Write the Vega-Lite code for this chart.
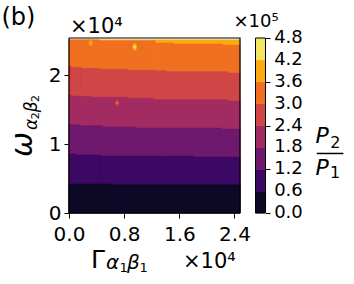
{
  "$schema": "https://vega.github.io/schema/vega-lite/v6.json",
  "width": 171,
  "height": 175,
  "autosize": {"type": "none"},
  "padding": {"left": 69, "top": 38, "right": 114, "bottom": 71},
  "background": "white",
  "config": {
    "view": {"stroke": null},
    "font": "DejaVu Sans",
    "axis": {"grid": false, "domain": false, "labelFont": "DejaVu Sans", "labelColor": "black", "tickColor": "black", "labelFlush": false, "labelOverlap": false},
    "text": {"font": "DejaVu Sans", "color": "black"}
  },
  "datasets": {
    "bands": [
      {"lo": 3.6, "x0": 0, "x1": 2.48, "y0": 0, "y1": 2.515},
      {"lo": 3.0, "x0": 0, "x1": 0.44, "y0": 0, "y1": 2.515},
      {"lo": 3.0, "x0": 0.44, "x1": 1.25, "y0": 0, "y1": 2.5},
      {"lo": 3.0, "x0": 1.25, "x1": 1.51, "y0": 0, "y1": 2.467},
      {"lo": 3.0, "x0": 1.51, "x1": 2.23, "y0": 0, "y1": 2.453},
      {"lo": 3.0, "x0": 2.23, "x1": 2.48, "y0": 0, "y1": 2.438},
      {"lo": 2.4, "x0": 0, "x1": 0.029, "y0": 0, "y1": 2.134},
      {"lo": 2.4, "x0": 0.029, "x1": 0.174, "y0": 0, "y1": 2.115},
      {"lo": 2.4, "x0": 0.174, "x1": 0.44, "y0": 0, "y1": 2.1},
      {"lo": 2.4, "x0": 0.44, "x1": 0.851, "y0": 0, "y1": 2.086},
      {"lo": 2.4, "x0": 0.851, "x1": 1.25, "y0": 0, "y1": 2.071},
      {"lo": 2.4, "x0": 1.25, "x1": 1.411, "y0": 0, "y1": 2.065},
      {"lo": 2.4, "x0": 1.411, "x1": 2.306, "y0": 0, "y1": 2.051},
      {"lo": 2.4, "x0": 2.306, "x1": 2.48, "y0": 0, "y1": 2.032},
      {"lo": 1.8, "x0": 0, "x1": 0.054, "y0": 0, "y1": 1.708},
      {"lo": 1.8, "x0": 0.054, "x1": 0.319, "y0": 0, "y1": 1.694},
      {"lo": 1.8, "x0": 0.319, "x1": 0.851, "y0": 0, "y1": 1.679},
      {"lo": 1.8, "x0": 0.851, "x1": 1.22, "y0": 0, "y1": 1.665},
      {"lo": 1.8, "x0": 1.22, "x1": 2.306, "y0": 0, "y1": 1.642},
      {"lo": 1.8, "x0": 2.306, "x1": 2.48, "y0": 0, "y1": 1.626},
      {"lo": 1.2, "x0": 0, "x1": 0.15, "y0": 0, "y1": 1.282},
      {"lo": 1.2, "x0": 0.15, "x1": 0.488, "y0": 0, "y1": 1.267},
      {"lo": 1.2, "x0": 0.488, "x1": 0.972, "y0": 0, "y1": 1.248},
      {"lo": 1.2, "x0": 0.972, "x1": 2.209, "y0": 0, "y1": 1.232},
      {"lo": 1.2, "x0": 2.209, "x1": 2.48, "y0": 0, "y1": 1.219},
      {"lo": 0.6, "x0": 0, "x1": 0.1, "y0": 0, "y1": 0.856},
      {"lo": 0.6, "x0": 0.1, "x1": 0.464, "y0": 0, "y1": 0.842},
      {"lo": 0.6, "x0": 0.464, "x1": 1.388, "y0": 0, "y1": 0.827},
      {"lo": 0.6, "x0": 1.388, "x1": 1.411, "y0": 0, "y1": 0.813},
      {"lo": 0.6, "x0": 1.411, "x1": 1.798, "y0": 0, "y1": 0.827},
      {"lo": 0.6, "x0": 1.798, "x1": 2.48, "y0": 0, "y1": 0.813},
      {"lo": 0, "x0": 0, "x1": 0.634, "y0": 0, "y1": 0.421},
      {"lo": 0, "x0": 0.634, "x1": 2.48, "y0": 0, "y1": 0.409},
      {"lo": 3.6, "x0": 0.3, "x1": 0.33, "y0": 2.43, "y1": 2.5},
      {"lo": 3.6, "x0": 0.29, "x1": 0.34, "y0": 2.455, "y1": 2.48},
      {"lo": 3.6, "x0": 0.94, "x1": 0.967, "y0": 2.356, "y1": 2.463},
      {"lo": 3.6, "x0": 0.924, "x1": 0.982, "y0": 2.385, "y1": 2.435},
      {"lo": 4.2, "x0": 0.94, "x1": 0.967, "y0": 2.39, "y1": 2.43},
      {"lo": 2.4, "x0": 0.685, "x1": 0.708, "y0": 1.557, "y1": 1.64},
      {"lo": 2.4, "x0": 0.672, "x1": 0.721, "y0": 1.58, "y1": 1.615},
      {"lo": 3.0, "x0": 0.685, "x1": 0.708, "y0": 1.585, "y1": 1.61}
    ],
    "cbar": [
      {"lo": 0, "hi": 0.6},
      {"lo": 0.6, "hi": 1.2},
      {"lo": 1.2, "hi": 1.8},
      {"lo": 1.8, "hi": 2.4},
      {"lo": 2.4, "hi": 3.0},
      {"lo": 3.0, "hi": 3.6},
      {"lo": 3.6, "hi": 4.2},
      {"lo": 4.2, "hi": 4.8}
    ],
    "cticks": [
      {"v": 0}, {"v": 0.6}, {"v": 1.2}, {"v": 1.8}, {"v": 2.4}, {"v": 3.0}, {"v": 3.6}, {"v": 4.2}, {"v": 4.8}
    ]
  },
  "resolve": {"scale": {"y": "independent"}},
  "layer": [
    {
      "layer": [
        {
          "data": {"name": "bands"},
          "mark": {"type": "rect", "strokeWidth": 0.5},
          "encoding": {
            "x": {"field": "x0", "type": "quantitative", "scale": {"domain": [0, 2.48], "nice": false, "zero": false},
              "axis": {"title": null, "values": [0, 0.8, 1.6, 2.4], "format": ".1f", "labelFontSize": 20, "tickSize": 5, "tickWidth": 1, "labelPadding": 6, "orient": "bottom", "labelOverlap": false}},
            "x2": {"field": "x1"},
            "y": {"field": "y0", "type": "quantitative", "scale": {"domain": [0, 2.54], "nice": false, "zero": false},
              "axis": {"title": null, "values": [0, 1, 2], "format": "d", "labelFontSize": 20, "tickSize": 5, "tickWidth": 1, "labelPadding": 3, "orient": "left", "labelOverlap": false}},
            "y2": {"field": "y1"},
            "color": {"field": "lo", "type": "quantitative", "scale": {"type": "threshold", "domain": [0.6, 1.2, 1.8, 2.4, 3.0, 3.6, 4.2], "range": ["#0c0826", "#3b0964", "#6f196e", "#a22b62", "#d04545", "#f06f20", "#fbab11", "#f4e461"]}, "legend": null},
            "stroke": {"field": "lo", "type": "quantitative", "scale": {"type": "threshold", "domain": [0.6, 1.2, 1.8, 2.4, 3.0, 3.6, 4.2], "range": ["#0c0826", "#3b0964", "#6f196e", "#a22b62", "#d04545", "#f06f20", "#fbab11", "#f4e461"]}, "legend": null}
          }
        },
        {
          "data": {"values": [{}]},
          "mark": {"type": "rect", "filled": false, "stroke": "black", "strokeWidth": 1.2, "clip": false},
          "encoding": {
            "x": {"datum": 0, "type": "quantitative", "scale": {"domain": [0, 2.48], "nice": false, "zero": false}},
            "x2": {"datum": 2.48},
            "y": {"datum": 0, "type": "quantitative", "scale": {"domain": [0, 2.54], "nice": false, "zero": false}},
            "y2": {"datum": 2.54}
          }
        },
        {
          "data": {"values": [{}]},
          "mark": {"type": "text", "text": "(b)", "fontSize": 24, "align": "left", "baseline": "alphabetic", "clip": false},
          "encoding": {
            "x": {"datum": -0.979, "type": "quantitative", "scale": {"domain": [0, 2.48], "nice": false, "zero": false}},
            "y": {"datum": 2.729, "type": "quantitative", "scale": {"domain": [0, 2.54], "nice": false, "zero": false}}
          }
        },
        {
          "data": {"values": [{}]},
          "mark": {"type": "text", "text": "×10⁴", "fontSize": 21, "align": "left", "baseline": "alphabetic", "clip": false},
          "encoding": {
            "x": {"datum": 0.0145, "type": "quantitative", "scale": {"domain": [0, 2.48], "nice": false, "zero": false}},
            "y": {"datum": 2.608, "type": "quantitative", "scale": {"domain": [0, 2.54], "nice": false, "zero": false}}
          }
        },
        {
          "data": {"values": [{}]},
          "mark": {"type": "text", "text": "×10⁴", "fontSize": 21, "align": "left", "baseline": "alphabetic", "clip": false},
          "encoding": {
            "x": {"datum": 1.653, "type": "quantitative", "scale": {"domain": [0, 2.48], "nice": false, "zero": false}},
            "y": {"datum": -0.803, "type": "quantitative", "scale": {"domain": [0, 2.54], "nice": false, "zero": false}}
          }
        },
        {
          "data": {"values": [{}]},
          "mark": {"type": "text", "text": "Γ", "fontSize": 25, "align": "left", "baseline": "alphabetic", "clip": false},
          "encoding": {
            "x": {"datum": 0.319, "type": "quantitative", "scale": {"domain": [0, 2.48], "nice": false, "zero": false}},
            "y": {"datum": -0.803, "type": "quantitative", "scale": {"domain": [0, 2.54], "nice": false, "zero": false}}
          }
        },
        {
          "data": {"values": [{}]},
          "mark": {"type": "text", "text": "α", "fontSize": 20, "fontStyle": "italic", "align": "left", "baseline": "alphabetic", "clip": false},
          "encoding": {
            "x": {"datum": 0.537, "type": "quantitative", "scale": {"domain": [0, 2.48], "nice": false, "zero": false}},
            "y": {"datum": -0.806, "type": "quantitative", "scale": {"domain": [0, 2.54], "nice": false, "zero": false}}
          }
        },
        {
          "data": {"values": [{}]},
          "mark": {"type": "text", "text": "1", "fontSize": 13, "align": "left", "baseline": "alphabetic", "clip": false},
          "encoding": {
            "x": {"datum": 0.732, "type": "quantitative", "scale": {"domain": [0, 2.48], "nice": false, "zero": false}},
            "y": {"datum": -0.856, "type": "quantitative", "scale": {"domain": [0, 2.54], "nice": false, "zero": false}}
          }
        },
        {
          "data": {"values": [{}]},
          "mark": {"type": "text", "text": "β", "fontSize": 20, "fontStyle": "italic", "align": "left", "baseline": "alphabetic", "clip": false},
          "encoding": {
            "x": {"datum": 0.84, "type": "quantitative", "scale": {"domain": [0, 2.48], "nice": false, "zero": false}},
            "y": {"datum": -0.806, "type": "quantitative", "scale": {"domain": [0, 2.54], "nice": false, "zero": false}}
          }
        },
        {
          "data": {"values": [{}]},
          "mark": {"type": "text", "text": "1", "fontSize": 13, "align": "left", "baseline": "alphabetic", "clip": false},
          "encoding": {
            "x": {"datum": 1.022, "type": "quantitative", "scale": {"domain": [0, 2.48], "nice": false, "zero": false}},
            "y": {"datum": -0.856, "type": "quantitative", "scale": {"domain": [0, 2.54], "nice": false, "zero": false}}
          }
        },
        {
          "data": {"values": [{}]},
          "mark": {"type": "text", "text": "ω", "fontSize": 30, "fontStyle": "italic", "angle": 270, "align": "left", "baseline": "alphabetic", "clip": false},
          "encoding": {
            "x": {"datum": -0.541, "type": "quantitative", "scale": {"domain": [0, 2.48], "nice": false, "zero": false}},
            "y": {"datum": 0.813, "type": "quantitative", "scale": {"domain": [0, 2.54], "nice": false, "zero": false}}
          }
        },
        {
          "data": {"values": [{}]},
          "mark": {"type": "text", "text": "α", "fontSize": 17, "fontStyle": "italic", "angle": 270, "align": "left", "baseline": "alphabetic", "clip": false},
          "encoding": {
            "x": {"datum": -0.471, "type": "quantitative", "scale": {"domain": [0, 2.48], "nice": false, "zero": false}},
            "y": {"datum": 1.205, "type": "quantitative", "scale": {"domain": [0, 2.54], "nice": false, "zero": false}}
          }
        },
        {
          "data": {"values": [{}]},
          "mark": {"type": "text", "text": "2", "fontSize": 11, "angle": 270, "align": "left", "baseline": "alphabetic", "clip": false},
          "encoding": {
            "x": {"datum": -0.428, "type": "quantitative", "scale": {"domain": [0, 2.48], "nice": false, "zero": false}},
            "y": {"datum": 1.36, "type": "quantitative", "scale": {"domain": [0, 2.54], "nice": false, "zero": false}}
          }
        },
        {
          "data": {"values": [{}]},
          "mark": {"type": "text", "text": "β", "fontSize": 17, "fontStyle": "italic", "angle": 270, "align": "left", "baseline": "alphabetic", "clip": false},
          "encoding": {
            "x": {"datum": -0.471, "type": "quantitative", "scale": {"domain": [0, 2.48], "nice": false, "zero": false}},
            "y": {"datum": 1.4615, "type": "quantitative", "scale": {"domain": [0, 2.54], "nice": false, "zero": false}}
          }
        },
        {
          "data": {"values": [{}]},
          "mark": {"type": "text", "text": "2", "fontSize": 11, "angle": 270, "align": "left", "baseline": "alphabetic", "clip": false},
          "encoding": {
            "x": {"datum": -0.428, "type": "quantitative", "scale": {"domain": [0, 2.48], "nice": false, "zero": false}},
            "y": {"datum": 1.61, "type": "quantitative", "scale": {"domain": [0, 2.54], "nice": false, "zero": false}}
          }
        },
        {
          "data": {"values": [{}]},
          "mark": {"type": "text", "text": "×10⁵", "fontSize": 18, "align": "left", "baseline": "alphabetic", "clip": false},
          "encoding": {
            "x": {"datum": 2.386, "type": "quantitative", "scale": {"domain": [0, 2.48], "nice": false, "zero": false}},
            "y": {"datum": 2.704, "type": "quantitative", "scale": {"domain": [0, 2.54], "nice": false, "zero": false}}
          }
        },
        {
          "data": {"values": [{}]},
          "mark": {"type": "text", "text": "P", "fontSize": 22, "fontStyle": "italic", "align": "left", "baseline": "alphabetic", "clip": false},
          "encoding": {
            "x": {"datum": 3.575, "type": "quantitative", "scale": {"domain": [0, 2.48], "nice": false, "zero": false}},
            "y": {"datum": 1.02, "type": "quantitative", "scale": {"domain": [0, 2.54], "nice": false, "zero": false}}
          }
        },
        {
          "data": {"values": [{}]},
          "mark": {"type": "text", "text": "2", "fontSize": 16, "align": "left", "baseline": "alphabetic", "clip": false},
          "encoding": {
            "x": {"datum": 3.788, "type": "quantitative", "scale": {"domain": [0, 2.48], "nice": false, "zero": false}},
            "y": {"datum": 0.939, "type": "quantitative", "scale": {"domain": [0, 2.54], "nice": false, "zero": false}}
          }
        },
        {
          "data": {"values": [{}]},
          "mark": {"type": "rule", "color": "black", "strokeWidth": 1.5, "clip": false},
          "encoding": {
            "x": {"datum": 3.593, "type": "quantitative", "scale": {"domain": [0, 2.48], "nice": false, "zero": false}},
            "x2": {"datum": 3.979},
            "y": {"datum": 0.864, "type": "quantitative", "scale": {"domain": [0, 2.54], "nice": false, "zero": false}}
          }
        },
        {
          "data": {"values": [{}]},
          "mark": {"type": "text", "text": "P", "fontSize": 22, "fontStyle": "italic", "align": "left", "baseline": "alphabetic", "clip": false},
          "encoding": {
            "x": {"datum": 3.575, "type": "quantitative", "scale": {"domain": [0, 2.48], "nice": false, "zero": false}},
            "y": {"datum": 0.552, "type": "quantitative", "scale": {"domain": [0, 2.54], "nice": false, "zero": false}}
          }
        },
        {
          "data": {"values": [{}]},
          "mark": {"type": "text", "text": "1", "fontSize": 16, "align": "left", "baseline": "alphabetic", "clip": false},
          "encoding": {
            "x": {"datum": 3.785, "type": "quantitative", "scale": {"domain": [0, 2.48], "nice": false, "zero": false}},
            "y": {"datum": 0.504, "type": "quantitative", "scale": {"domain": [0, 2.54], "nice": false, "zero": false}}
          }
        }
      ]
    },
    {
      "layer": [
        {
          "data": {"name": "cbar"},
          "mark": {"type": "rect", "clip": false, "strokeWidth": 0.5},
          "encoding": {
            "x": {"datum": 2.705, "type": "quantitative", "scale": {"domain": [0, 2.48], "nice": false, "zero": false}},
            "x2": {"datum": 2.85},
            "y": {"field": "lo", "type": "quantitative", "scale": {"domain": [0, 4.8], "nice": false, "zero": false},
              "axis": {"title": null, "orient": "right", "offset": 25.5, "values": [0, 0.6, 1.2, 1.8, 2.4, 3.0, 3.6, 4.2, 4.8], "labels": false, "tickSize": 4.5, "tickWidth": 1}},
            "y2": {"field": "hi"},
            "color": {"field": "lo", "type": "quantitative", "scale": {"type": "threshold", "domain": [0.6, 1.2, 1.8, 2.4, 3.0, 3.6, 4.2], "range": ["#0c0826", "#3b0964", "#6f196e", "#a22b62", "#d04545", "#f06f20", "#fbab11", "#f4e461"]}, "legend": null},
            "stroke": {"field": "lo", "type": "quantitative", "scale": {"type": "threshold", "domain": [0.6, 1.2, 1.8, 2.4, 3.0, 3.6, 4.2], "range": ["#0c0826", "#3b0964", "#6f196e", "#a22b62", "#d04545", "#f06f20", "#fbab11", "#f4e461"]}, "legend": null}
          }
        },
        {
          "data": {"values": [{}]},
          "mark": {"type": "rect", "filled": false, "stroke": "black", "strokeWidth": 1, "clip": false},
          "encoding": {
            "x": {"datum": 2.705, "type": "quantitative", "scale": {"domain": [0, 2.48], "nice": false, "zero": false}},
            "x2": {"datum": 2.85},
            "y": {"datum": 0, "type": "quantitative", "scale": {"domain": [0, 4.8], "nice": false, "zero": false}},
            "y2": {"datum": 4.8}
          }
        },
        {
          "data": {"name": "cticks"},
          "mark": {"type": "text", "fontSize": 18, "align": "left", "baseline": "middle", "clip": false},
          "encoding": {
            "x": {"datum": 2.975, "type": "quantitative", "scale": {"domain": [0, 2.48], "nice": false, "zero": false}},
            "y": {"field": "v", "type": "quantitative", "scale": {"domain": [0, 4.8], "nice": false, "zero": false}},
            "text": {"field": "v", "type": "quantitative", "format": ".1f"}
          }
        }
      ]
    }
  ]
}
